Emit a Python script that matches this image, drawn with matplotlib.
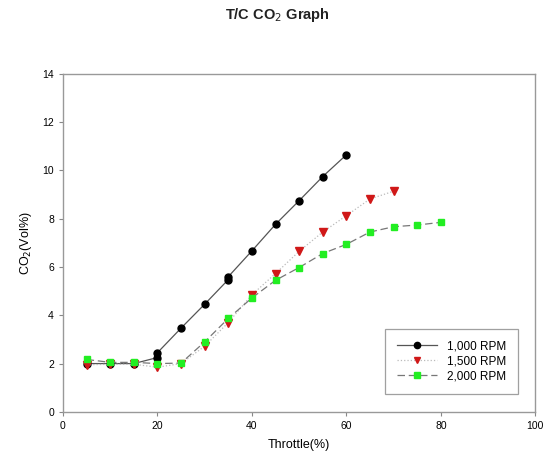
import matplotlib
matplotlib.use('Agg')
import matplotlib.pyplot as plt

plt.rcParams['font.family'] = ['Liberation Sans', 'DejaVu Sans']

# throttle (%) and CO2 (vol%) per engine speed
x_1000 = [5, 10, 15, 20, 20, 25, 30, 35, 35, 40, 45, 50, 55, 60]
co2_1000 = [2.0, 2.0, 2.0, 2.25, 2.45, 3.47, 4.46, 5.48, 5.6, 6.67, 7.77, 8.75, 9.75, 10.65]

x_1500 = [5, 10, 15, 20, 25, 30, 35, 40, 45, 50, 55, 60, 65, 70]
co2_1500 = [1.95, 1.97, 1.97, 1.85, 2.0, 2.72, 3.7, 4.85, 5.73, 6.65, 7.45, 8.13, 8.82, 9.14]

x_2000 = [5, 10, 15, 20, 25, 30, 35, 40, 45, 50, 55, 60, 65, 70, 75, 80]
co2_2000 = [2.17, 2.05, 2.05, 2.0, 2.02, 2.9, 3.87, 4.72, 5.45, 5.98, 6.56, 6.94, 7.45, 7.67, 7.74, 7.85]

labels = ['1,000 RPM', '1,500 RPM', '2,000 RPM']

fig = plt.figure(figsize=(5.55, 4.68), dpi=100)
ax = fig.add_axes([0.1135, 0.12, 0.851, 0.722])

ax.plot(x_1000, co2_1000, color='#555555', lw=0.9, ls='-', marker='o', ms=5,
        mfc='black', mec='black', label=labels[0])
ax.plot(x_1500, co2_1500, color='#bbbbbb', lw=0.9, ls=':', marker='v', ms=5.5,
        mfc='#d01818', mec='#d01818', label=labels[1])
ax.plot(x_2000, co2_2000, color='#777777', lw=0.9, ls=(0, (6, 3)), marker='s', ms=5,
        mfc='#22ee22', mec='#22ee22', label=labels[2])

ax.set_xlim(0, 100)
ax.set_ylim(0, 14)
ax.set_xticks(range(0, 101, 20))
ax.set_yticks(range(0, 15, 2))
ax.tick_params(labelsize=7.5, length=3, width=0.8, color='#888888', direction='out')

for s in ax.spines.values():
    s.set_color('#999999')
    s.set_linewidth(1.0)

ax.set_xlabel('Throttle(%)', fontsize=9, labelpad=6)
ax.set_ylabel('CO$_2$(Vol%)', fontsize=9, labelpad=6)
fig.text(0.5, 0.968, 'T/C CO$_2$ Graph', ha='center', va='center', fontsize=10.5,
         fontweight='bold', color='#222222')

leg = ax.legend(loc='lower right', bbox_to_anchor=(0.975, 0.035), fontsize=8.5,
                frameon=True, fancybox=False, handlelength=3.4, borderpad=1.0,
                labelspacing=0.25, markerscale=0.9)
leg.get_frame().set_edgecolor('#888888')
leg.get_frame().set_linewidth(0.9)

fig.savefig('out.png', dpi=100)
